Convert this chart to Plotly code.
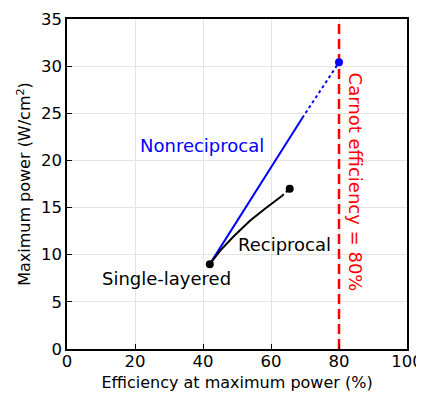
import plotly.graph_objects as go

# Data
start_pt = (42.0, 9.0)
nonrecip_solid_x = [42.0, 69.2]
nonrecip_solid_y = [9.0, 24.5]
nonrecip_dot_x = [69.2, 80.0]
nonrecip_dot_y = [24.5, 30.4]
nonrecip_end = (80.0, 30.4)

recip_solid_x = [42.0, 45.0, 48.9, 53.8, 58.7, 63.1]
recip_solid_y = [9.0, 10.4, 11.9, 13.6, 15.0, 16.2]
recip_dot_x = [63.1, 65.5]
recip_dot_y = [16.2, 17.0]
recip_end = (65.5, 17.0)

carnot_eff = 80
x_ticks = [0, 20, 40, 60, 80, 100]
y_ticks = [0, 5, 10, 15, 20, 25, 30, 35]

FONT = "DejaVu Sans"
FS = 16.5
FT = 16
FA = 18

fig = go.Figure()
fig.add_trace(go.Scatter(x=[carnot_eff, carnot_eff], y=[0, 35], mode="lines",
                         line=dict(color="red", width=2.5, dash="10px,5px"), showlegend=False))
fig.add_trace(go.Scatter(x=nonrecip_solid_x, y=nonrecip_solid_y, mode="lines",
                         line=dict(color="blue", width=2), showlegend=False))
fig.add_trace(go.Scatter(x=nonrecip_dot_x, y=nonrecip_dot_y, mode="lines",
                         line=dict(color="blue", width=2, dash="dot"), showlegend=False))
fig.add_trace(go.Scatter(x=recip_solid_x, y=recip_solid_y, mode="lines",
                         line=dict(color="black", width=2), showlegend=False))
fig.add_trace(go.Scatter(x=recip_dot_x, y=recip_dot_y, mode="lines",
                         line=dict(color="black", width=2, dash="dot"), showlegend=False))
fig.add_trace(go.Scatter(x=[nonrecip_end[0]], y=[nonrecip_end[1]], mode="markers",
                         marker=dict(color="blue", size=8), showlegend=False))
fig.add_trace(go.Scatter(x=[start_pt[0], recip_end[0]], y=[start_pt[1], recip_end[1]], mode="markers",
                         marker=dict(color="black", size=8), showlegend=False))

annos = [
    dict(x=39.6, y=21.6, text="Nonreciprocal", font=dict(color="blue", size=FA, family=FONT)),
    dict(x=64.0, y=11.1, text="Reciprocal", font=dict(color="black", size=FA, family=FONT)),
    dict(x=29.4, y=7.5, text="Single-layered", font=dict(color="black", size=FA, family=FONT)),
    dict(x=84.7, y=17.65, text="Carnot efficiency = 80%", textangle=90,
         font=dict(color="red", size=FA, family=FONT)),
]
for a in annos:
    fig.add_annotation(xref="x", yref="y", showarrow=False, xanchor="center", yanchor="middle", **a)

axis_common = dict(showgrid=True, gridcolor="#e3e3e3", gridwidth=1, zeroline=False,
                   showline=True, linecolor="black", linewidth=1.5, mirror=True,
                   ticks="inside", ticklen=5, tickwidth=1, tickcolor="black", automargin=False,
                   ticklabeloverflow="allow",
                   tickfont=dict(size=FS, family=FONT, color="black"))
fig.update_xaxes(range=[0, 100], tickvals=x_ticks, ticklabelstandoff=-4,
                 title=dict(text="Efficiency at maximum power (%)", font=dict(size=FT, family=FONT, color="black"), standoff=7),
                 **axis_common)
fig.update_yaxes(range=[0, 35], tickvals=y_ticks,
                 title=dict(text="Maximum power (W/cm<sup>2</sup>)", font=dict(size=FT, family=FONT, color="black"), standoff=6),
                 **axis_common)
fig.update_layout(width=424, height=395, margin=dict(l=59, r=25, t=11, b=54),
                  plot_bgcolor="white", paper_bgcolor="white",
                  font=dict(family=FONT, size=FS, color="black"))
fig.write_html("out.html")
